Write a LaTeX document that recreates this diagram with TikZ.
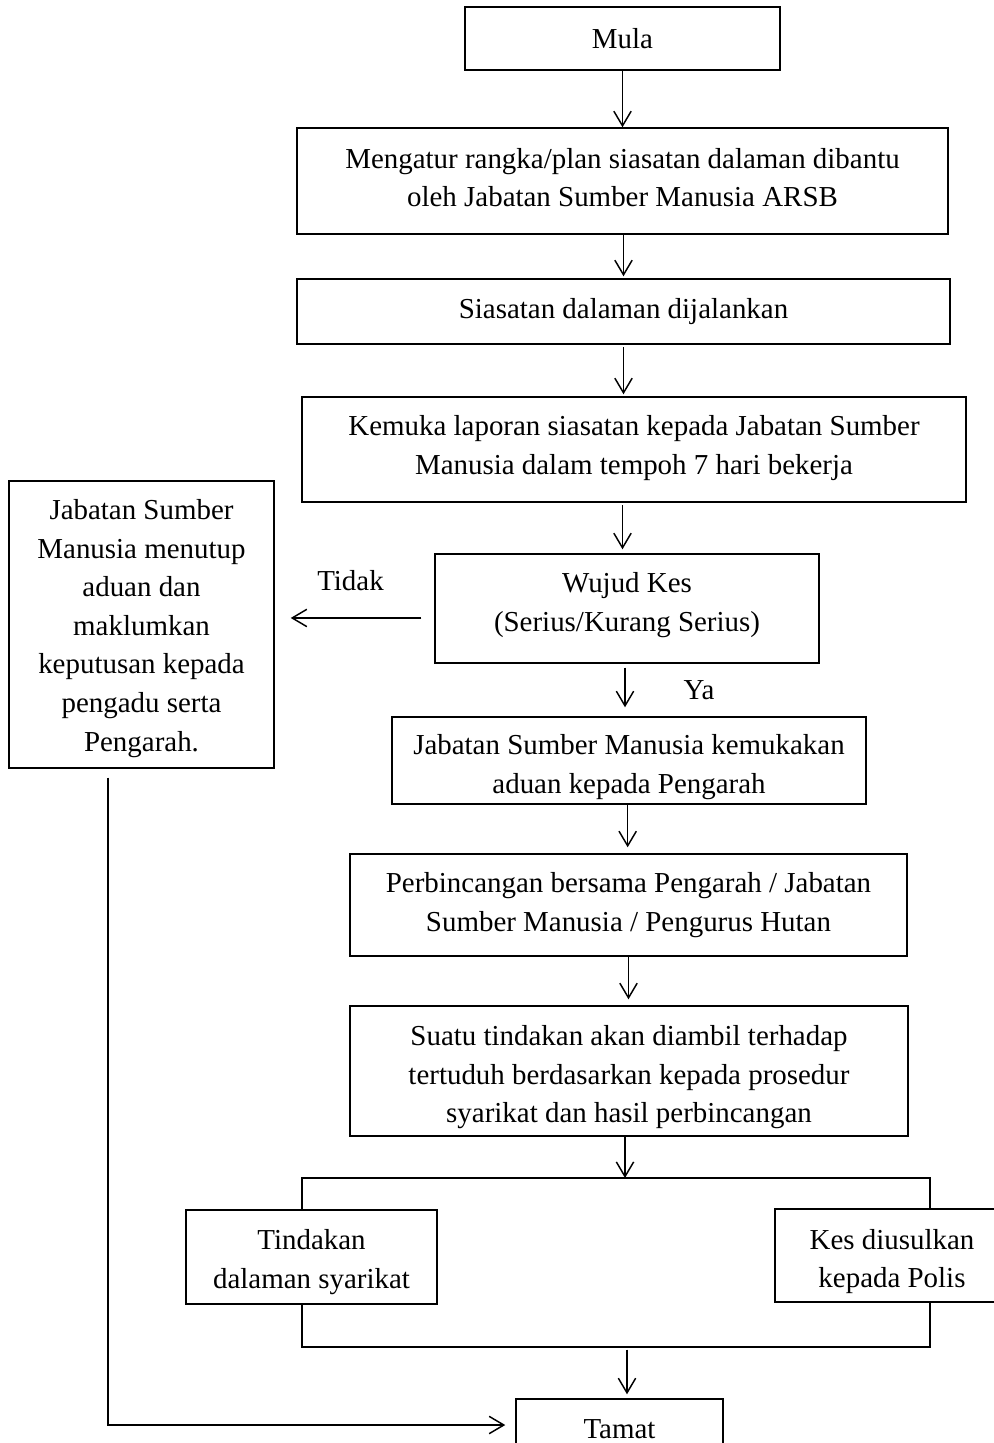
\documentclass[tikz,border=0pt]{standalone}
\usepackage{fontspec}
\setmainfont{Liberation Serif}
\usetikzlibrary{arrows.meta,calc}
\begin{document}
\begin{tikzpicture}[x=0.75pt,y=-0.75pt,
  txt/.style={font=\fontsize{21.7}{28.9}\selectfont},
  box/.style={draw, line width=1.1pt, inner sep=0pt},
  txtc/.style={txt, align=center, inner sep=0pt},
  lbl/.style={txt, inner sep=0pt},
  ln/.style={line width=1.1pt},
  arr/.style={line width=1.1pt, -{Straight Barb[length=11pt,width=13pt,line width=1.1pt]}}]
\useasboundingbox (0,0) rectangle (993,1443);
% boxes
\node[box, minimum width=236.25pt, minimum height=47.25pt] (mula) at (622.5,38.5) {};
\node[box, minimum width=488.25pt, minimum height=79.5pt] (plan) at (622.5,181) {};
\node[box, minimum width=489.75pt, minimum height=48.75pt] (run) at (623.5,311.5) {};
\node[box, minimum width=498pt, minimum height=78.75pt] (report) at (634,449.5) {};
\node[box, minimum width=198.75pt, minimum height=215.25pt] (close) at (141.5,624.5) {};
\node[box, minimum width=288pt, minimum height=81.75pt] (case) at (627,608.5) {};
\node[box, minimum width=355.5pt, minimum height=65.25pt] (submit) at (629,760.5) {};
\node[box, minimum width=417.75pt, minimum height=76.5pt] (discuss) at (628.5,905) {};
\node[box, minimum width=418.5pt, minimum height=97.5pt] (action) at (629,1071) {};
\node[box, minimum width=188.25pt, minimum height=70.5pt] (internal) at (311.5,1257) {};
\node[box, minimum width=175.5pt, minimum height=69.75pt] (police) at (892,1255.5) {};
\node[box, minimum width=155.25pt, minimum height=45.75pt] (end) at (619.5,1429.5) {};
% box texts
\node[txtc] (mulaT) at (622.5,38.5) {Mula};
\node[txtc] (planT) at (622.5,177.5) {Mengatur rangka/plan siasatan dalaman dibantu\\oleh Jabatan Sumber Manusia ARSB};
\node[txtc] (runT) at (623.5,311.5) {Siasatan dalaman dijalankan};
\node[txtc] (reportT) at (634,448) {Kemuka laporan siasatan kepada Jabatan Sumber\\Manusia dalam tempoh 7 hari bekerja};
\node[txtc] (closeT) at (141.5,628.5) {Jabatan Sumber\\Manusia menutup\\aduan dan\\maklumkan\\keputusan kepada\\pengadu serta\\Pengarah.};
\node[txtc] (caseT) at (627,605) {Wujud Kes\\(Serius/Kurang Serius)};
\node[txtc] (submitT) at (629,767) {Jabatan Sumber Manusia kemukakan\\aduan kepada Pengarah};
\node[txtc] (discussT) at (628.5,905) {Perbincangan bersama Pengarah / Jabatan\\Sumber Manusia / Pengurus Hutan};
\node[txtc] (actionT) at (629,1077.5) {Suatu tindakan akan diambil terhadap\\tertuduh berdasarkan kepada prosedur\\syarikat dan hasil perbincangan};
\node[txtc] (internalT) at (311.5,1262) {Tindakan\\dalaman syarikat};
\node[txtc] (policeT) at (892,1261.5) {Kes diusulkan\\kepada Polis};
\node[txtc] (endT) at (619.5,1429.5) {Tamat};
% labels
\node[lbl] (tidak) at (350.5,581) {Tidak};
\node[lbl] (ya) at (699,690) {Ya};
% helper coordinates
\coordinate (tl) at (302,1178);
\coordinate (tr) at (930,1178);
\coordinate (tm) at (625,1178);
\coordinate (bl) at (302,1347);
\coordinate (br) at (930,1347);
\coordinate (bm) at (627,1347);
\coordinate (lc) at (108,1425);
% connectors
\draw[arr] (mula.south) -- (mula.south |- plan.north);
\draw[arr, shorten >=1.5pt] (plan.south -| run.north) -- (run.north);
\draw[arr, shorten <=2pt, shorten >=1.5pt] (run.south) -- (run.south |- report.north);
\draw[arr, shorten <=2pt, shorten >=3pt] (report.south -| mula.south) -- (mula.south |- case.north);
\draw[arr, shorten <=3pt, shorten >=6.75pt] ([xshift=-1.5pt]case.south) -- ([xshift=-1.5pt]case.south |- submit.north);
\draw[arr, shorten >=4.5pt] ([xshift=-1pt]submit.south) -- ([xshift=-1pt]submit.south |- discuss.north);
\draw[arr, shorten >=4.5pt] (discuss.south) -- (discuss.south |- action.north);
\draw[arr] (action.south -| tm) -- (tm);
\draw[ln] (tl |- internal.north) -- (tl) -- (tr) -- (tr |- police.north);
\draw[ln] (bl |- internal.south) -- (bl) -- (br) -- (br |- police.south);
\draw[arr, shorten <=2pt, shorten >=3pt] (bm) -- (bm |- end.north);
\draw[arr, shorten <=9.75pt, shorten >=12pt] ([yshift=-7.1pt]case.west) -- ([yshift=-7.1pt]case.west -| close.east);
\draw[arr, shorten <=6.75pt, shorten >=7.5pt] (close.south -| lc) -- (lc) -- (lc -| end.west);
\end{tikzpicture}
\end{document}
